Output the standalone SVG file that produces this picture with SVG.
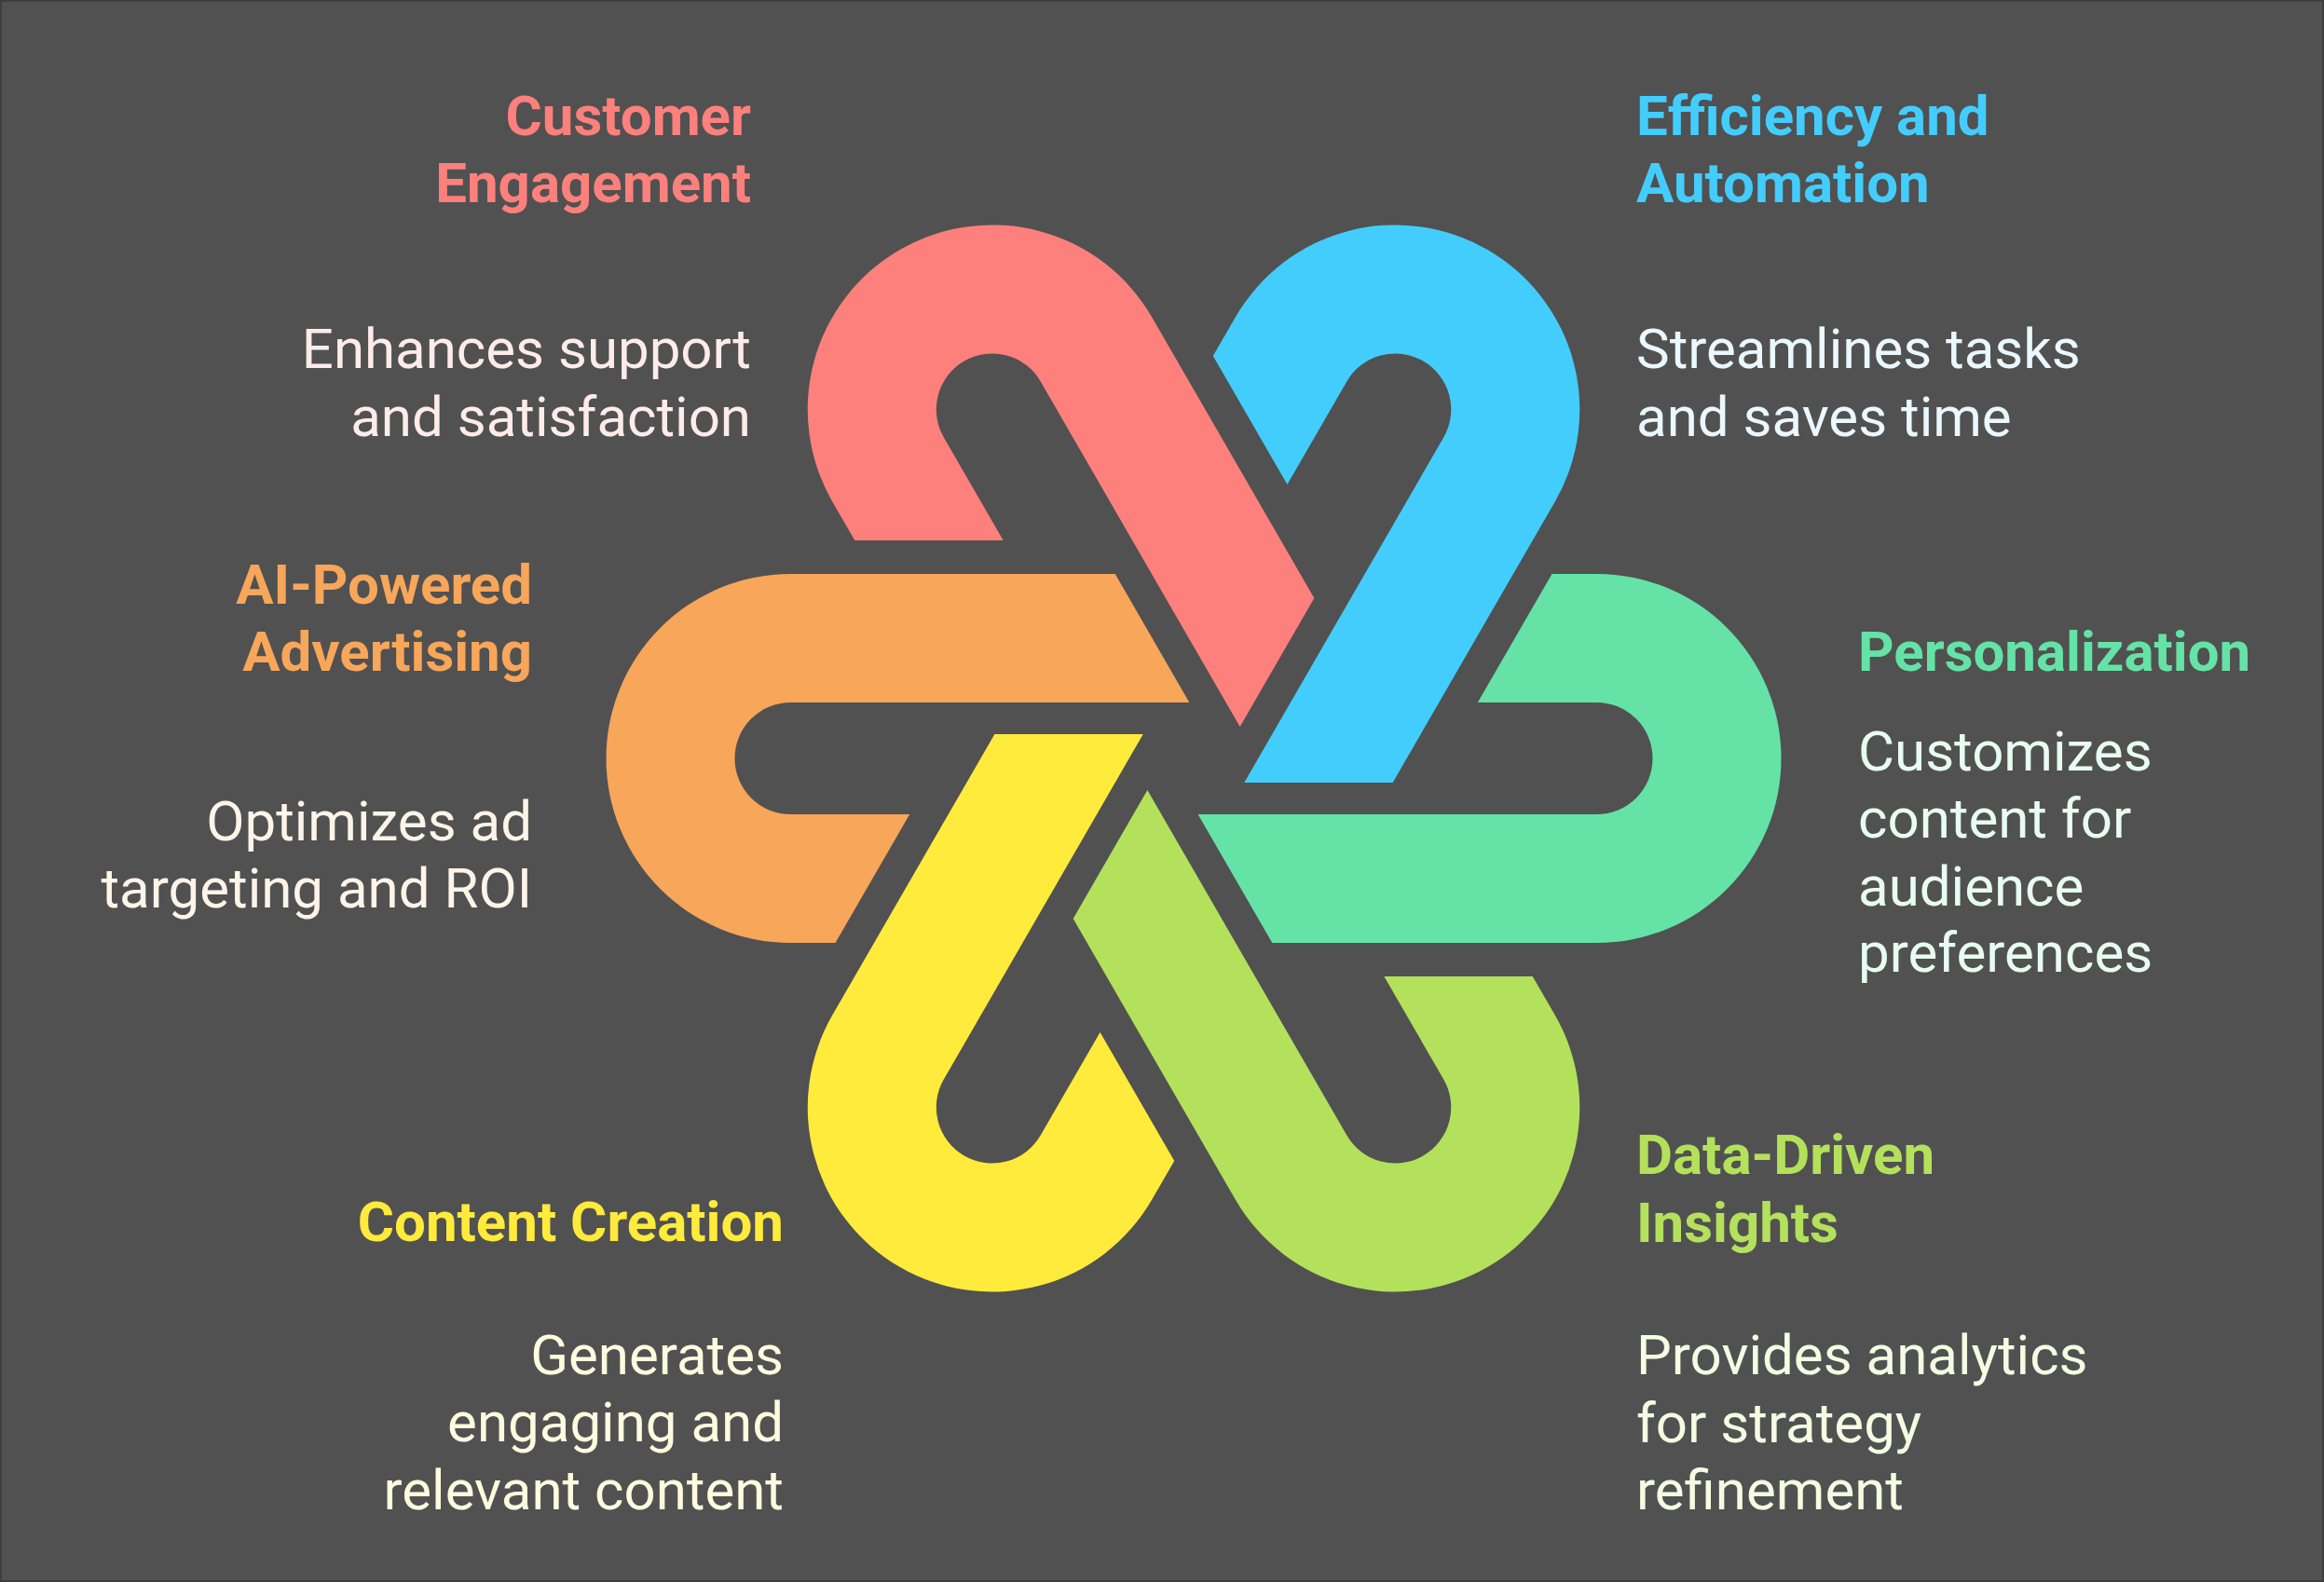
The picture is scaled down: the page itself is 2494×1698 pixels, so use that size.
<svg xmlns="http://www.w3.org/2000/svg" width="2494" height="1698" viewBox="0 0 2494 1698">
  <defs>
    <style>
      .t { font-family: Roboto, "Liberation Sans", sans-serif; font-weight: 700; font-size: 60px; }
      .d { font-family: Roboto, "Liberation Sans", sans-serif; font-weight: 400; font-size: 60px; }
      .r { text-anchor: end; }
    </style>
    <path id="hook" d="M -432.5,-198 L -84.3,-198 L -4.6,-60 L -432.5,-60 A 60 60 0 0 0 -432.5,60 L -304.8,60 L -384.5,198 L -432.5,198 A 198 198 0 0 1 -432.5,-198 Z"/>
  </defs>
  <rect x="0" y="0" width="2494" height="1698" fill="#515151" stroke="#3E3E3E" stroke-width="4"/>
  <g id="connectors"></g>
  <g id="shapes" transform="translate(1281,814)">
    <g id="node-orange"><use href="#hook" fill="#F7A65A"/></g>
    <g id="node-pink"><use href="#hook" fill="#FD807C" transform="rotate(60)"/></g>
    <g id="node-blue"><use href="#hook" fill="#43CDFD" transform="rotate(120)"/></g>
    <g id="node-green"><use href="#hook" fill="#65E3A7" transform="rotate(180)"/></g>
    <g id="node-lime"><use href="#hook" fill="#B4E15B" transform="rotate(240)"/></g>
    <g id="node-yellow"><use href="#hook" fill="#FFEB3B" transform="rotate(300)"/></g>
  </g>
  <g id="label-customer">
    <text class="t r" fill="#FD807C" x="806" y="145">Customer</text>
    <text class="t r" fill="#FD807C" x="806" y="217">Engagement</text>
    <text class="d r" fill="#FFECEA" x="806" y="395">Enhances support</text>
    <text class="d r" fill="#FFECEA" x="806" y="468">and satisfaction</text>
  </g>
  <g id="label-efficiency">
    <text class="t" fill="#43CDFD" x="1756" y="145">Efficiency and</text>
    <text class="t" fill="#43CDFD" x="1756" y="217">Automation</text>
    <text class="d" fill="#EAF8FF" x="1756" y="395">Streamlines tasks</text>
    <text class="d" fill="#EAF8FF" x="1756" y="468">and saves time</text>
  </g>
  <g id="label-advertising">
    <text class="t r" fill="#F7A65A" x="571" y="648">AI-Powered</text>
    <text class="t r" fill="#F7A65A" x="571" y="720">Advertising</text>
    <text class="d r" fill="#FFF4E8" x="571" y="902">Optimizes ad</text>
    <text class="d r" fill="#FFF4E8" x="571" y="974">targeting and ROI</text>
  </g>
  <g id="label-personalization">
    <text class="t" fill="#65E3A7" x="1994" y="720">Personalization</text>
    <text class="d" fill="#E8FDF2" x="1994" y="827">Customizes</text>
    <text class="d" fill="#E8FDF2" x="1994" y="899">content for</text>
    <text class="d" fill="#E8FDF2" x="1994" y="972">audience</text>
    <text class="d" fill="#E8FDF2" x="1994" y="1043">preferences</text>
  </g>
  <g id="label-content">
    <text class="t r" fill="#FFEB3B" x="841" y="1332">Content Creation</text>
    <text class="d r" fill="#FFFBDF" x="841" y="1475">Generates</text>
    <text class="d r" fill="#FFFBDF" x="841" y="1547">engaging and</text>
    <text class="d r" fill="#FFFBDF" x="841" y="1620">relevant content</text>
  </g>
  <g id="label-data">
    <text class="t" fill="#B4E15B" x="1756" y="1260">Data-Driven</text>
    <text class="t" fill="#B4E15B" x="1756" y="1333">Insights</text>
    <text class="d" fill="#F4FCE2" x="1756" y="1475">Provides analytics</text>
    <text class="d" fill="#F4FCE2" x="1756" y="1548">for strategy</text>
    <text class="d" fill="#F4FCE2" x="1756" y="1620">refinement</text>
  </g>
</svg>
